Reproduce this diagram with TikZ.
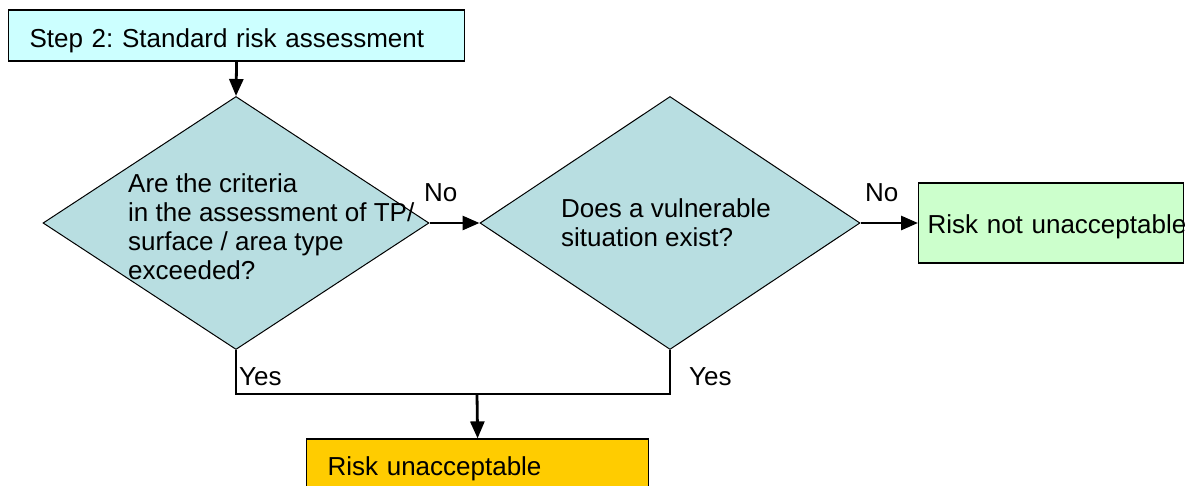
\documentclass[tikz,border=0pt]{standalone}
\usepackage{fontspec}
\setmainfont{Liberation Sans}
\usetikzlibrary{shapes.geometric,arrows.meta}
\definecolor{stepcyan}{RGB}{204,255,255}
\definecolor{questblue}{RGB}{184,222,225}
\definecolor{okgreen}{RGB}{204,255,204}
\definecolor{badorange}{RGB}{255,204,0}
\frenchspacing
\tikzset{
  box/.style={draw, line width=1.2pt, anchor=base west, inner ysep=0pt, align=left},
  question/.style={draw, shape=diamond, fill=questblue, line width=1pt, inner sep=0pt,
    minimum width=#1, minimum height=253pt},
  flow/.style={line width=2.8pt},
  arr/.style={flow, -{Triangle[length=17pt,width=14pt]}},
  txt/.style={anchor=base west, inner sep=0pt},
}

\begin{document}
\begin{tikzpicture}[x=1pt, y=-1pt, font=\fontsize{26}{29}\selectfont]
  \useasboundingbox (0,0) rectangle (1185,485);
  \clip (0,0) rectangle (1185,485);
  \node[box, fill=stepcyan, inner xsep=21pt, text width=414pt, text height=37pt, text depth=14pt]
    (step) at (8,47) {Step 2: Standard risk assessment};
  \node[question=386pt] (q1) at (236,223) {};
  \node[question=380pt] (q2) at (670,223) {};
  \node[box, fill=okgreen, inner xsep=9pt, text width=247pt, text height=50pt, text depth=30pt]
    (ok) at (918,233) {\mbox{Risk not unacceptable}};
  \node[box, fill=badorange, inner xsep=21pt, text width=300pt, text height=36pt, text depth=25pt]
    (bad) at (306,475) {Risk unacceptable};
  \foreach \t [count=\i] in {Are the criteria, in the assessment of TP/, surface / area type, exceeded?}
    \node[txt] (q1line\i) at (128,163+29*\i) {\t};
  \foreach \t [count=\i] in {Does a vulnerable, situation exist?}
    \node[txt] (q2line\i) at (561,188+29*\i) {\t};
  \node[txt] (no1) at (424,201) {No};
  \node[txt] (no2) at (865,201) {No};
  \node[txt] (yes1) at (239,385) {Yes};
  \node[txt] (yes2) at (689,385) {Yes};
  \coordinate (join) at (477,394);
  \draw[arr] (step.south) -- (q1.north);
  \draw[arr] (q1.east) -- (q2.west);
  \draw[arr] (q2.east) -- (ok.west);
  \draw[flow] (q1.south) |- (join) -| (q2.south);
  \draw[arr] (join) -- (bad.north);
\end{tikzpicture}
\end{document}
